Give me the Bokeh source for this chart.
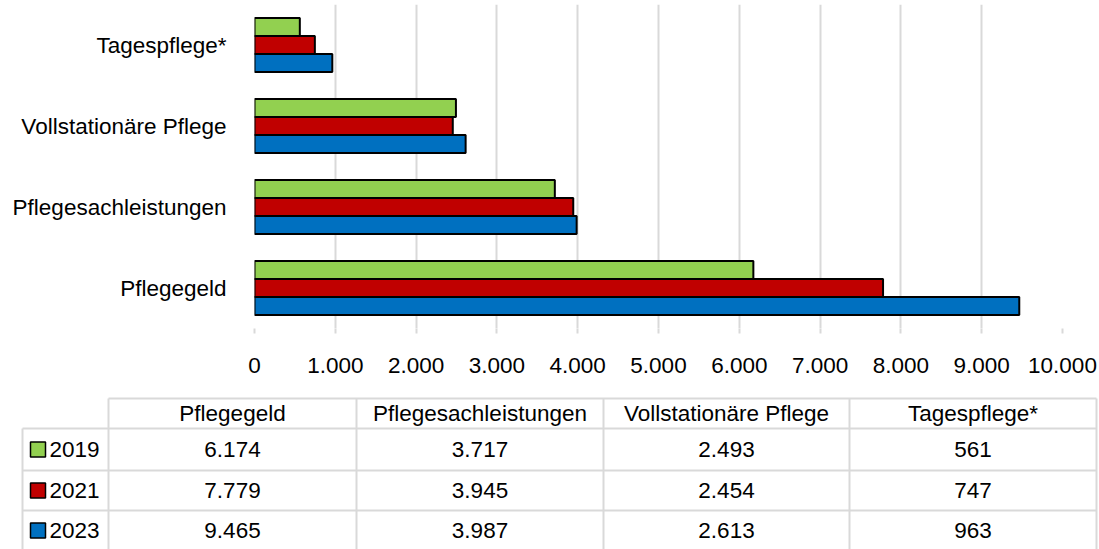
from bokeh.plotting import figure
from bokeh.models import Range1d, FixedTicker
from bokeh.core.properties import value
from bokeh.embed import file_html
from bokeh.resources import INLINE

# ---------------- data ----------------
categories = ["Pflegegeld", "Pflegesachleistungen", "Vollstationäre Pflege", "Tagespflege*"]
years = ["2019", "2021", "2023"]
values_2019 = [6174, 3717, 2493, 561]
values_2021 = [7779, 3945, 2454, 747]
values_2023 = [9465, 3987, 2613, 963]
x_ticks = [0, 1000, 2000, 3000, 4000, 5000, 6000, 7000, 8000, 9000, 10000]

series = [values_2019, values_2021, values_2023]
colors = ["#92d050", "#c00000", "#0070c0"]

FONT = "Liberation Sans"
FSIZE = "22.5px"
GRID = "#d9d9d9"


def de(n):
    return f"{n:,}".replace(",", ".")


# ---------------- bar chart ----------------
W = 1099
TOP_H = 385
p = figure(width=W, height=TOP_H,
           x_range=Range1d(0, 10000),
           y_range=Range1d(-0.5, len(categories) - 0.5),
           output_backend="svg", toolbar_location=None,
           min_border_left=254, min_border_right=37,
           min_border_top=4, min_border_bottom=57)
p.outline_line_color = None
p.background_fill_color = "white"
p.border_fill_color = "white"

bar_h = 2.0 / 9.0
offsets = [bar_h, 0.0, -bar_h]
ypos = list(range(len(categories)))
for vals, col, off in zip(series, colors, offsets):
    p.hbar(y=[y + off for y in ypos], left=0, right=vals, height=bar_h,
           fill_color=col, line_color="black", line_width=2)

p.xaxis.ticker = FixedTicker(ticks=x_ticks)
p.xgrid.ticker = FixedTicker(ticks=x_ticks)
p.xaxis.major_label_overrides = {t: de(t) for t in x_ticks}
p.xgrid.grid_line_color = GRID
p.xgrid.grid_line_width = 2
p.ygrid.grid_line_color = None
p.xaxis.axis_line_color = None
p.xaxis.major_tick_line_color = GRID
p.xaxis.major_tick_line_width = 2
p.xaxis.major_tick_out = 5
p.xaxis.major_tick_in = 0
p.xaxis.minor_tick_line_color = None
p.xaxis.major_label_standoff = 24
p.xaxis.major_label_text_font = FONT
p.xaxis.major_label_text_font_size = FSIZE
p.xaxis.major_label_text_color = "black"

p.yaxis.ticker = FixedTicker(ticks=ypos)
p.yaxis.major_label_overrides = {i: c for i, c in zip(ypos, categories)}
p.yaxis.axis_line_color = None
p.yaxis.major_tick_line_color = None
p.yaxis.minor_tick_line_color = None
p.yaxis.major_tick_in = 0
p.yaxis.major_tick_out = 0
p.yaxis.major_label_standoff = 28
p.yaxis.major_label_text_font = FONT
p.yaxis.major_label_text_font_size = FSIZE
p.yaxis.major_label_text_color = "black"

# ---------------- data table ----------------
TAB_H = 549 - TOP_H
t = figure(width=W, height=TAB_H,
           x_range=Range1d(0, W), y_range=Range1d(TOP_H + TAB_H, TOP_H),
           output_backend="svg", toolbar_location=None,
           x_axis_type=None, y_axis_type=None, min_border=0)
t.outline_line_color = None
t.grid.visible = False
t.background_fill_color = "white"
t.border_fill_color = "white"

col_edges = [108, 356, 603, 849, 1096]
row_edges = [398, 428, 470, 510, 550]
label_left = 22
bottom = 549

# horizontal lines
t.segment(x0=[col_edges[0]], y0=[row_edges[0]], x1=[col_edges[-1]], y1=[row_edges[0]],
          line_color=GRID, line_width=2)
t.segment(x0=[label_left] * 3, y0=row_edges[1:4], x1=[col_edges[-1]] * 3, y1=row_edges[1:4],
          line_color=GRID, line_width=2)
# vertical lines
t.segment(x0=[label_left], y0=[row_edges[1]], x1=[label_left], y1=[bottom],
          line_color=GRID, line_width=2)
t.segment(x0=col_edges, y0=[row_edges[0]] * len(col_edges), x1=col_edges,
          y1=[bottom] * len(col_edges), line_color=GRID, line_width=2)

col_centers = [(a + b) / 2 for a, b in zip(col_edges[:-1], col_edges[1:])]
row_centers = [(a + b) / 2 for a, b in zip(row_edges[:-1], row_edges[1:])]

# header
t.text(x=col_centers, y=[row_centers[0]] * len(categories), text=categories,
       text_font=value(FONT), text_font_size=value(FSIZE), text_color="black",
       text_align="center", text_baseline="middle")

# rows
for r, (yr, vals, col) in enumerate(zip(years, series, colors)):
    yc = row_centers[r + 1]
    t.text(x=col_centers, y=[yc] * len(vals), text=[de(v) for v in vals],
           text_font=value(FONT), text_font_size=value(FSIZE), text_color="black",
           text_align="center", text_baseline="middle")
    t.rect(x=[37.5], y=[yc], width=15, height=15, fill_color=col,
           line_color="black", line_width=1.5)
    t.text(x=[49], y=[yc], text=[yr],
           text_font=value(FONT), text_font_size=value(FSIZE), text_color="black",
           text_align="left", text_baseline="middle")

open("out.html", "w").write(file_html([p, t], INLINE))
